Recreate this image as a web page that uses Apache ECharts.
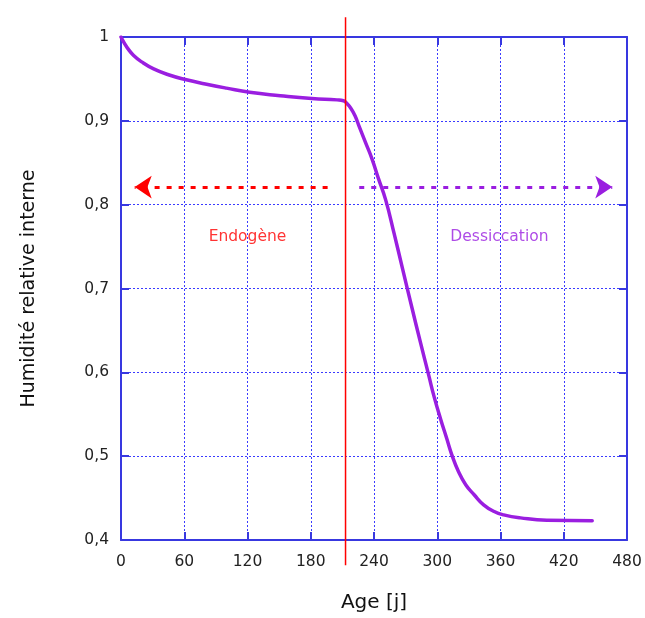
<!DOCTYPE html>
<html><head><meta charset="utf-8">
<script src="https://cdn.jsdelivr.net/npm/echarts@6/dist/echarts.min.js"></script>
<style>html,body{margin:0;padding:0;background:#fff}#c{width:645px;height:618px}</style>
</head><body><div id="c"></div>
<script>
var ages = [0, 3, 6, 12, 20, 31, 45, 62, 80, 100, 122, 151, 181, 205, 211, 214, 218, 222, 226, 232, 238, 244, 251, 259, 267, 276, 284, 292, 297, 303, 309, 314, 320, 327, 335, 344, 354, 363, 379, 404, 447];
var humidity = [1.0, 0.993, 0.987, 0.978, 0.970, 0.962, 0.955, 0.949, 0.944, 0.939, 0.934, 0.930, 0.9266, 0.925, 0.924, 0.921, 0.915, 0.906, 0.893, 0.874, 0.855, 0.832, 0.806, 0.766, 0.724, 0.677, 0.636, 0.596, 0.571, 0.545, 0.521, 0.501, 0.482, 0.466, 0.454, 0.442, 0.434, 0.430, 0.4264, 0.4236, 0.4231];
var xTicks = [0, 60, 120, 180, 240, 300, 360, 420, 480];
var yTicks = [0.4, 0.5, 0.6, 0.7, 0.8, 0.9, 1];
var boundaryAge = 213;
var boundaryRange = [1.0237, 0.370];
var arrowEndogene = [[196, 0.821], [13, 0.821]];
var arrowDessiccation = [[226, 0.821], [466, 0.821]];
var zoneLabels = [{name: 'Endogène', age: 120, hr: 0.761}, {name: 'Dessiccation', age: 359, hr: 0.761}];

var blue = '#3838e0';
var gridColor = '#3a3aff';
var purple = '#9a1ee0';
var red = '#ff0000';
var font = 'DejaVu Sans, Verdana, sans-serif';

var chart = echarts.init(document.getElementById('c'));
function axisCommon() {
  return {
    axisLine: {show: true, onZero: false, lineStyle: {color: blue, width: 2}},
    axisTick: {show: true, inside: true, length: 8, lineStyle: {color: blue, width: 2}}
  };
}
chart.setOption({
  animation: false,
  backgroundColor: '#fff',
  grid: {left: 121, right: 18, top: 37, bottom: 76, containLabel: false},
  xAxis: [
    Object.assign({
      type: 'value', min: xTicks[0], max: xTicks[xTicks.length - 1], interval: 60,
      name: 'Age [j]', nameLocation: 'middle', nameGap: 53,
      nameTextStyle: {fontFamily: font, fontSize: 20, color: '#111'},
      axisLabel: {fontFamily: font, fontSize: 15.5, color: '#222', margin: 14},
      splitLine: {show: true, lineStyle: {color: gridColor, type: [2, 2], width: 1}}
    }, axisCommon()),
    Object.assign({
      type: 'value', position: 'top', min: xTicks[0], max: xTicks[xTicks.length - 1], interval: 60,
      axisLabel: {show: false}, splitLine: {show: false}
    }, axisCommon())
  ],
  yAxis: [
    Object.assign({
      type: 'value', min: yTicks[0], max: yTicks[yTicks.length - 1], interval: 0.1,
      name: 'Humidité relative interne', nameLocation: 'middle', nameGap: 82,
      nameTextStyle: {fontFamily: font, fontSize: 19, color: '#111'},
      axisLabel: {fontFamily: font, fontSize: 15.5, color: '#222', margin: 12,
        formatter: function (v) { return (Math.round(v * 10) / 10).toString().replace('.', ','); }},
      splitLine: {show: true, lineStyle: {color: gridColor, type: [2, 2], width: 1}}
    }, axisCommon()),
    Object.assign({
      type: 'value', position: 'right', min: yTicks[0], max: yTicks[yTicks.length - 1], interval: 0.1,
      axisLabel: {show: false}, splitLine: {show: false}
    }, axisCommon())
  ],
  series: [
    {
      type: 'line', name: 'HR', data: ages.map(function (a, i) { return [a, humidity[i]]; }),
      smooth: 0.5, symbol: 'none', lineStyle: {color: purple, width: 3.5, join: 'round', cap: 'round'}, z: 5
    },
    {
      type: 'line', name: 'limite', clip: false,
      data: boundaryRange.map(function (v) { return [boundaryAge, v]; }),
      symbol: 'none', lineStyle: {color: red, width: 1.5}, z: 6
    },
    {
      type: 'lines', coordinateSystem: 'cartesian2d', z: 4,
      symbol: ['none', 'arrow'], symbolSize: 17,
      data: [
        {coords: arrowEndogene, lineStyle: {color: red, width: 3, type: [5, 7], opacity: 1}},
        {coords: arrowDessiccation, lineStyle: {color: purple, width: 3, type: [5, 7], opacity: 1}}
      ]
    },
    {
      type: 'scatter', symbolSize: 0, z: 7,
      data: zoneLabels.map(function (d, i) {
        return {value: [d.age, d.hr], name: d.name,
          label: {show: true, position: 'inside', formatter: d.name, fontFamily: font, fontSize: 15.5,
            color: i === 0 ? red : purple}};
      })
    }
  ]
});
</script>
</body></html>
